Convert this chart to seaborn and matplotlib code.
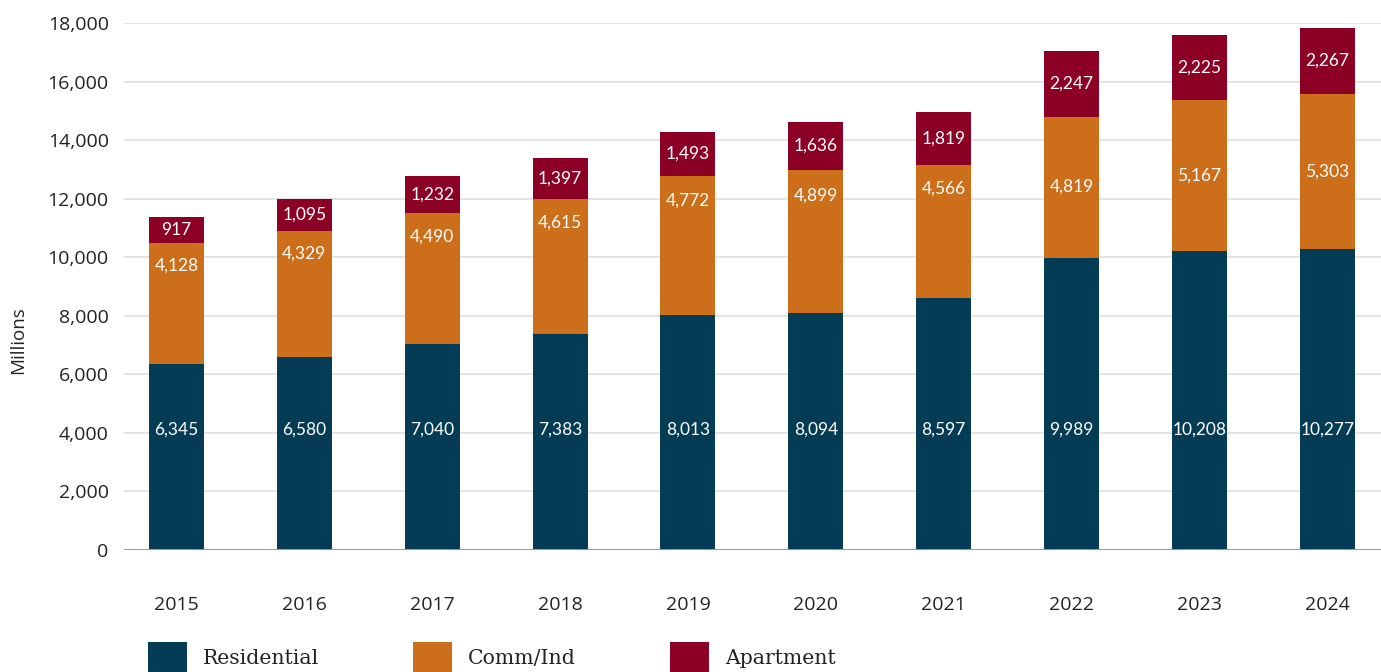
import matplotlib
matplotlib.use("Agg")
import matplotlib.pyplot as plt
import seaborn as sns
import pandas as pd
from matplotlib.patches import Patch

years = ["2015", "2016", "2017", "2018", "2019", "2020", "2021", "2022", "2023", "2024"]
residential = [6345, 6580, 7040, 7383, 8013, 8094, 8597, 9989, 10208, 10277]
comm_ind = [4128, 4329, 4490, 4615, 4772, 4899, 4566, 4819, 5167, 5303]
apartment = [917, 1095, 1232, 1397, 1493, 1636, 1819, 2247, 2225, 2267]
series_names = ["Residential", "Comm/Ind", "Apartment"]
y_ticks = [0, 2000, 4000, 6000, 8000, 10000, 12000, 14000, 16000, 18000]

C_RES = "#043C55"
C_COM = "#CD6E1B"
C_APT = "#8C0026"

sns.set_theme(style="white")
plt.rcParams["font.family"] = ["Open Sans", "DejaVu Sans"]

df = pd.DataFrame({"year": years, "res": residential, "com": comm_ind, "apt": apartment})
df["res_com"] = df["res"] + df["com"]
df["total"] = df["res_com"] + df["apt"]

W, H = 1381, 672
fig = plt.figure(figsize=(W / 100, H / 100), dpi=100)
ax = fig.add_axes([124 / W, 1 - 549.7 / H, 1 - 124 / W, (549.7 - 23.3) / H])

bw = 0.43
sns.barplot(data=df, x="year", y="total", order=years, color=C_APT, width=bw,
            saturation=1, ax=ax, zorder=2, linewidth=0)
sns.barplot(data=df, x="year", y="res_com", order=years, color=C_COM, width=bw,
            saturation=1, ax=ax, zorder=3, linewidth=0)
sns.barplot(data=df, x="year", y="res", order=years, color=C_RES, width=bw,
            saturation=1, ax=ax, zorder=4, linewidth=0)

ax.set_ylim(0, 18000)
ax.set_xlim(-0.41, len(years) - 1 + 0.42)
ax.set_yticks(y_ticks)
ax.set_yticklabels([f"{v:,}" for v in y_ticks])
ax.set_xlabel("")
ax.set_ylabel("")
for s in ax.spines.values():
    s.set_visible(False)
for v in y_ticks[1:]:
    ax.axhline(v, color="#dcdcdc", lw=1.1, zorder=1)
ax.axhline(0, color="#9a9a9a", lw=1.4, zorder=6)

ax.tick_params(axis="y", length=0, pad=11, labelsize=14, labelcolor="#222222")
ax.tick_params(axis="x", length=0, pad=33, labelsize=14, labelcolor="#222222")

lab_kw = dict(color="white", fontsize=12.5, ha="center", va="center", zorder=7,
              family=["Lato", "DejaVu Sans"])
for i, yr in enumerate(years):
    r, c, a = residential[i], comm_ind[i], apartment[i]
    ax.text(i, 4100, f"{r:,}", **lab_kw)
    frac = 0.5 if int(yr) >= 2022 else 0.18
    ax.text(i, r + c - frac * c, f"{c:,}", **lab_kw)
    ax.text(i, r + c + a / 2, f"{a:,}", **lab_kw)

fig.text(18 / W, 1 - 340 / H, "Millions", rotation=90, ha="center", va="center",
         fontsize=13.5, color="#222222")

handles = [Patch(facecolor=C_RES, edgecolor="none"),
           Patch(facecolor=C_COM, edgecolor="none"),
           Patch(facecolor=C_APT, edgecolor="none")]
leg = fig.legend(handles, series_names, loc="center left",
                 bbox_to_anchor=(148 / W, 1 - 657.5 / H), ncol=3, frameon=False,
                 handlelength=1.9, handleheight=1.9, handletextpad=0.78,
                 columnspacing=4.62, borderpad=0, borderaxespad=0,
                 prop={"family": "DejaVu Serif", "size": 14.7})
for t in leg.get_texts():
    t.set_color("#222222")

fig.savefig("out.png", dpi=100)
